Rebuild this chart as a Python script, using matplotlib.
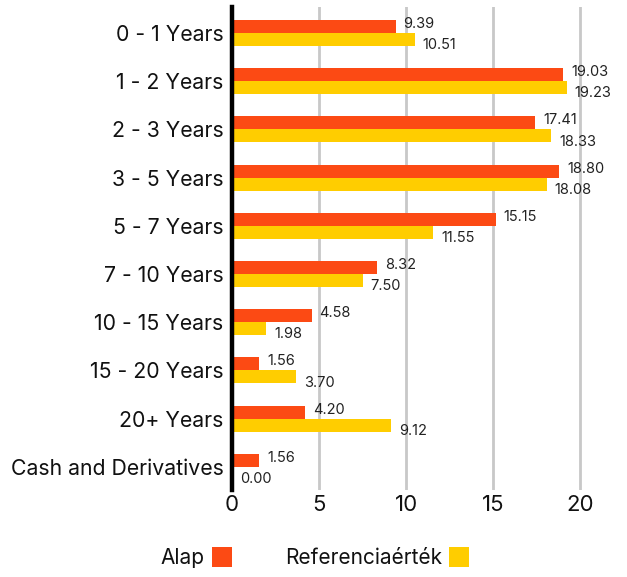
import matplotlib.pyplot as plt
from matplotlib.patches import Rectangle
import numpy as np

plt.rcParams['font.family'] = ['Inter', 'DejaVu Sans']

categories = ['0 - 1 Years', '1 - 2 Years', '2 - 3 Years', '3 - 5 Years', '5 - 7 Years',
              '7 - 10 Years', '10 - 15 Years', '15 - 20 Years', '20+ Years', 'Cash and Derivatives']
alap = [9.39, 19.03, 17.41, 18.80, 15.15, 8.32, 4.58, 1.56, 4.20, 1.56]
referencia = [10.51, 19.23, 18.33, 18.08, 11.55, 7.50, 1.98, 3.70, 9.12, 0.00]
xticks = [0, 5, 10, 15, 20]

orange = '#FC4A14'
yellow = '#FFCD00'

fig = plt.figure(figsize=(6.27, 5.77), dpi=100)
ax = fig.add_axes([0.370, 0.151, 0.611, 0.837])

y = np.arange(len(categories))
h = 0.27
ax.barh(y - h / 2, alap, height=h, color=orange, zorder=3)
ax.barh(y + h / 2, referencia, height=h, color=yellow, zorder=3)

for i in range(len(categories)):
    ax.text(alap[i] + 0.45, y[i] - h / 2 - 0.05, f'{alap[i]:.2f}', fontsize=10.5,
            va='center', ha='left', color='#222222')
    ax.text(referencia[i] + 0.45, y[i] + h / 2 + 0.12, f'{referencia[i]:.2f}', fontsize=10.5,
            va='center', ha='left', color='#222222')

ax.set_ylim(len(categories) - 0.52, -0.54)
ax.set_xlim(0, 22)
ax.set_yticks(y)
ax.set_yticklabels(categories, fontsize=15.3, color='#111111')
ax.set_xticks(xticks)
ax.set_xticklabels([str(t) for t in xticks], fontsize=16, color='#111111')
ax.tick_params(length=0, axis='y', pad=6)
ax.tick_params(length=0, axis='x', pad=4)
ax.xaxis.grid(True, color='#C8C8C8', linewidth=2, zorder=0)
ax.set_axisbelow(True)
for s in ['top', 'right', 'bottom']:
    ax.spines[s].set_visible(False)
ax.spines['left'].set_linewidth(3.2)
ax.spines['left'].set_color('black')
ax.spines['left'].set_zorder(5)

# legend drawn by hand: text then coloured square
W, H = 627, 577
fig.text(160 / W, 1 - 558 / H, 'Alap', fontsize=15, va='center', ha='left', color='#111111')
fig.patches.append(Rectangle((212 / W, 1 - 567 / H), 20 / W, 20 / H, transform=fig.transFigure,
                             facecolor=orange, edgecolor='none'))
fig.text(285 / W, 1 - 558 / H, 'Referenciaérték', fontsize=15, va='center', ha='left', color='#111111')
fig.patches.append(Rectangle((449 / W, 1 - 567 / H), 20 / W, 20 / H, transform=fig.transFigure,
                             facecolor=yellow, edgecolor='none'))

fig.savefig('out.png', dpi=100)
